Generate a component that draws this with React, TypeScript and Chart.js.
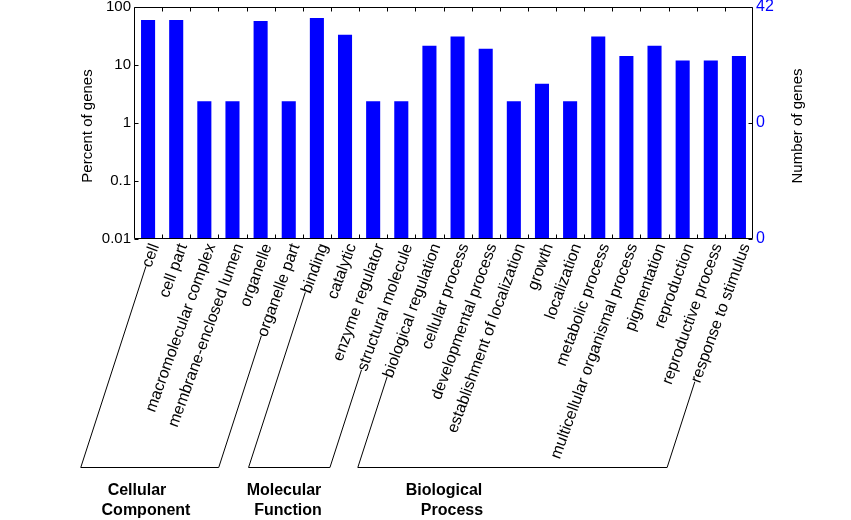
import { useEffect, useRef } from "react";
import { Chart, registerables } from "chart.js";

Chart.register(...registerables);

const categories = [
  "cell",
  "cell part",
  "macromolecular complex",
  "membrane-enclosed lumen",
  "organelle",
  "organelle part",
  "binding",
  "catalytic",
  "enzyme regulator",
  "structural molecule",
  "biological regulation",
  "cellular process",
  "developmental process",
  "establishment of localization",
  "growth",
  "localization",
  "metabolic process",
  "multicellular organismal process",
  "pigmentation",
  "reproduction",
  "reproductive process",
  "response to stimulus",
];

const percentValues = [
  59.5, 59.5, 2.38, 2.38, 57.1, 2.38, 64.3, 33.3, 2.38, 2.38, 21.4, 31.0, 19.0,
  2.38, 4.76, 2.38, 31.0, 14.3, 21.4, 11.9, 11.9, 14.3,
];

const leftTicks = [0.01, 0.1, 1, 10, 100];
const rightTickValues = [0.01, 1, 100];
const rightTickLabels = ["0", "0", "42"];

const groupNames = [
  ["Cellular", "Component"],
  ["Molecular", "Function"],
  ["Biological", "Process"],
];
const groupFirst = [0, 6, 10];
const groupLast = [5, 9, 21];

const FONT = "'Liberation Sans', Arial, Helvetica, sans-serif";
const LABEL_SIZE = 16;
const LABEL_PAD = 2;
const LABEL_OFFSET = 7;
const TEXT_ANGLE = (70 * Math.PI) / 180;
const LINE_ANGLE = (72 * Math.PI) / 180;
const BRACKET_Y = 467;

// per-line centre x of the group captions and baselines
const groupLineX = [
  [137, 146],
  [284, 288],
  [444, 452],
];
const groupBaselines = [495, 515];

const framePlugin = {
  id: "frame",
  afterDraw(chart: any) {
    const { ctx, chartArea: a, scales } = chart;
    const x = scales.x;
    const y = scales.y;
    const y2 = scales.y2;
    ctx.save();
    ctx.strokeStyle = "#000";
    ctx.lineWidth = 1;
    const L = Math.round(a.left) + 0.5;
    const R = Math.round(a.right) - 0.5;
    const T = Math.round(a.top) + 0.5;
    const B = Math.round(a.bottom) - 0.5;
    ctx.beginPath();
    ctx.rect(L, T, R - L, B - T);
    ctx.stroke();

    const tl = 4;
    ctx.beginPath();
    for (let k = 1; k < categories.length; k++) {
      const px = Math.round((x.getPixelForValue(k - 1) + x.getPixelForValue(k)) / 2) + 0.5;
      ctx.moveTo(px, T);
      ctx.lineTo(px, T + tl);
      ctx.moveTo(px, B);
      ctx.lineTo(px, B - tl);
    }
    for (const v of leftTicks) {
      const py = Math.round(y.getPixelForValue(v)) + 0.5;
      ctx.moveTo(L, py);
      ctx.lineTo(L + tl, py);
    }
    for (const v of rightTickValues) {
      const py = Math.round(y2.getPixelForValue(v)) + 0.5;
      ctx.moveTo(R, py);
      ctx.lineTo(R - tl, py);
    }
    ctx.stroke();

    // axis titles
    ctx.fillStyle = "#000";
    ctx.font = `15px ${FONT}`;
    ctx.textAlign = "center";
    ctx.textBaseline = "middle";
    const midY = (a.top + a.bottom) / 2 + 3;
    ctx.save();
    ctx.translate(a.left - 46, midY);
    ctx.rotate(-Math.PI / 2);
    ctx.fillText("Percent of genes", 0, 0);
    ctx.restore();
    ctx.save();
    ctx.translate(a.right + 45, midY);
    ctx.rotate(-Math.PI / 2);
    ctx.fillText("Number of genes", 0, 0);
    ctx.restore();

    // brackets
    ctx.font = `${LABEL_SIZE}px ${FONT}`;
    const labelStart = (i: number) => {
      const w = ctx.measureText(categories[i]).width;
      const ax = x.getPixelForValue(i) + LABEL_OFFSET;
      const ay = x.top + LABEL_PAD;
      const sx = ax - w * Math.cos(TEXT_ANGLE);
      const sy = ay + w * Math.sin(TEXT_ANGLE);
      const gap = 3;
      return [sx - gap * Math.cos(LINE_ANGLE), sy + gap * Math.sin(LINE_ANGLE)];
    };
    const bottomX = (p: number[]) => p[0] - (BRACKET_Y - p[1]) / Math.tan(LINE_ANGLE);
    ctx.strokeStyle = "#000";
    ctx.lineWidth = 1;
    for (let g = 0; g < groupFirst.length; g++) {
      const p1 = labelStart(groupFirst[g]);
      const p2 = labelStart(groupLast[g]);
      const b1 = bottomX(p1);
      const b2 = bottomX(p2);
      ctx.beginPath();
      ctx.moveTo(p1[0], p1[1]);
      ctx.lineTo(b1, BRACKET_Y + 0.5);
      ctx.lineTo(b2, BRACKET_Y + 0.5);
      ctx.lineTo(p2[0], p2[1]);
      ctx.stroke();
    }

    // group captions
    ctx.font = `bold 16px ${FONT}`;
    ctx.textAlign = "center";
    ctx.textBaseline = "alphabetic";
    for (let g = 0; g < groupNames.length; g++) {
      for (let l = 0; l < 2; l++) {
        ctx.fillText(groupNames[g][l], groupLineX[g][l], groupBaselines[l]);
      }
    }
    ctx.restore();
  },
};

const zeroPad = (s: any) => {
  s.paddingTop = 0;
  s.paddingBottom = 0;
  s.paddingLeft = 0;
  s.paddingRight = 0;
};

export default function App() {
  const ref = useRef<HTMLCanvasElement | null>(null);
  useEffect(() => {
    if (!ref.current) return;
    const chart = new Chart(ref.current, {
      type: "bar",
      data: {
        labels: categories,
        datasets: [
          {
            data: percentValues,
            backgroundColor: "#0000ff",
            borderWidth: 0,
            barPercentage: 0.5,
            categoryPercentage: 1.0,
            xAxisID: "x",
            yAxisID: "y",
          },
        ],
      },
      options: {
        animation: false,
        responsive: true,
        maintainAspectRatio: false,
        layout: { padding: { top: 7, left: 0, right: 0, bottom: 0 } },
        plugins: {
          legend: { display: false },
          tooltip: { enabled: false },
          title: { display: false },
        },
        scales: {
          x: {
            type: "category",
            position: "bottom",
            offset: true,
            grid: { display: false, drawTicks: false },
            border: { display: false },
            ticks: {
              autoSkip: false,
              minRotation: 70,
              maxRotation: 70,
              padding: LABEL_PAD,
              labelOffset: LABEL_OFFSET,
              color: "#000",
              font: { family: FONT, size: LABEL_SIZE },
            },
            afterFit: (s: any) => {
              s.height = 281;
              zeroPad(s);
            },
          },
          y: {
            type: "logarithmic",
            position: "left",
            min: 0.01,
            max: 100,
            grid: { display: false, drawTicks: false },
            border: { display: false },
            ticks: {
              padding: 3,
              color: "#000",
              font: { family: FONT, size: 15 },
              callback: (v: any) => String(v),
            },
            afterBuildTicks: (s: any) => {
              s.ticks = leftTicks.map((v) => ({ value: v }));
            },
            afterFit: (s: any) => {
              s.width = 134;
              zeroPad(s);
            },
          },
          y2: {
            type: "logarithmic",
            position: "right",
            min: 0.01,
            max: 100,
            grid: { display: false, drawTicks: false },
            border: { display: false },
            ticks: {
              padding: 3,
              color: "#0000ff",
              font: { family: FONT, size: 16 },
              callback: (v: any) => {
                const i = rightTickValues.indexOf(Number(v));
                return i >= 0 ? rightTickLabels[i] : "";
              },
            },
            afterBuildTicks: (s: any) => {
              s.ticks = rightTickValues.map((v) => ({ value: v }));
            },
            afterFit: (s: any) => {
              s.width = 98;
              zeroPad(s);
            },
          },
        },
      },
      plugins: [framePlugin],
    });
    return () => chart.destroy();
  }, []);

  return (
    <div style={{ position: "absolute", left: 0, top: 0, width: 851, height: 520, background: "#fff" }}>
      <canvas ref={ref} />
    </div>
  );
}
